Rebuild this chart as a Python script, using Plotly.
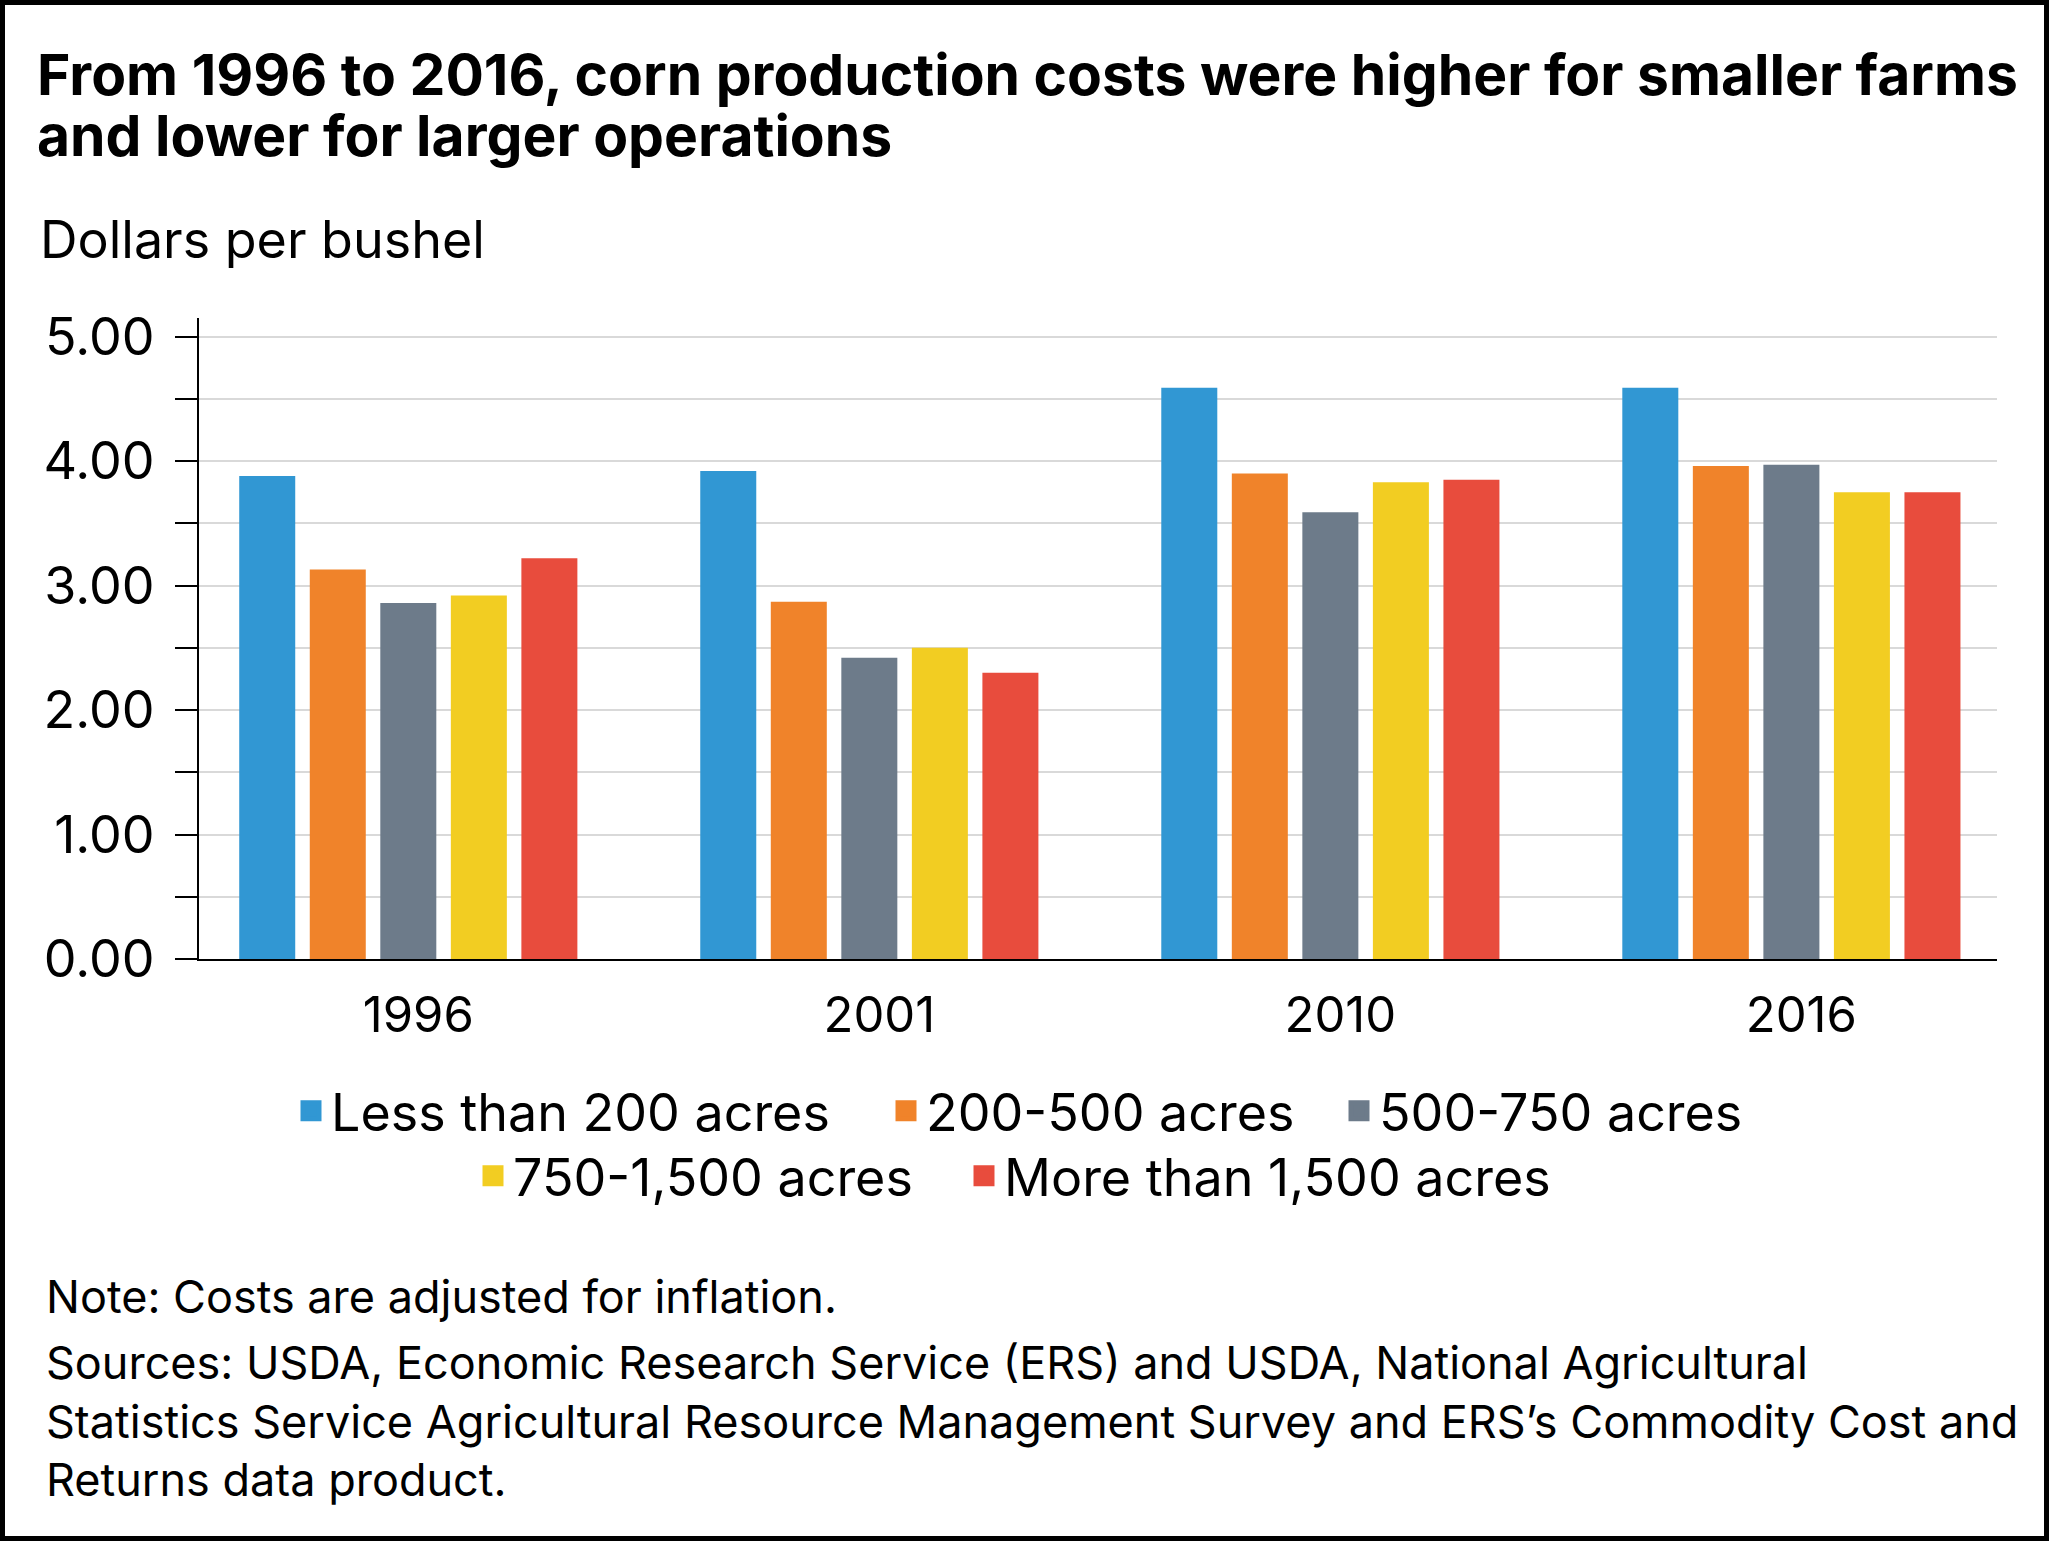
import plotly.graph_objects as go

years = ["1996", "2001", "2010", "2016"]
farm_sizes = [
    "Less than 200 acres",
    "200-500 acres",
    "500-750 acres",
    "750-1,500 acres",
    "More than 1,500 acres",
]
under_200 = [3.88, 3.92, 4.59, 4.59]
acres_200_500 = [3.13, 2.87, 3.90, 3.96]
acres_500_750 = [2.86, 2.42, 3.59, 3.97]
acres_750_1500 = [2.92, 2.50, 3.83, 3.75]
over_1500 = [3.22, 2.30, 3.85, 3.75]
series = [under_200, acres_200_500, acres_500_750, acres_750_1500, over_1500]
colors = ["#3197d3", "#f0832a", "#6d7b8a", "#f2cd22", "#e84c3d"]

y_ticks = [0, 0.5, 1, 1.5, 2, 2.5, 3, 3.5, 4, 4.5, 5]
y_tick_text = [f"{v:.2f}" if v == int(v) else "" for v in y_ticks]

title_lines = [
    "From 1996 to 2016, corn production costs were higher for smaller farms",
    "and lower for larger operations",
]
note = "Note: Costs are adjusted for inflation."
sources = (
    "Sources: USDA, Economic Research Service (ERS) and USDA, National Agricultural<br>"
    "Statistics Service Agricultural Resource Management Survey and ERS\u2019s Commodity Cost and<br>"
    "Returns data product."
)

W, H = 2049, 1541
ML, MR, MT, MB = 199, 52, 318, 582
FONT = "Inter"


def px_x(px):
    return (px - ML) / (W - ML - MR)


def px_y(py):
    return (H - MB - py) / (H - MT - MB)


fig = go.Figure()
# legend slots: (legend id, left pixel of the swatch, row centre pixel)
legend_slots = [
    ("legend", 301, 1111),
    ("legend2", 896, 1111),
    ("legend3", 1349, 1111),
    ("legend4", 483, 1176),
    ("legend5", 974, 1176),
]
for name, values, color, slot in zip(farm_sizes, series, colors, legend_slots):
    fig.add_trace(go.Bar(
        x=years, y=values, name=name, marker_color=color,
        marker_line_width=0, showlegend=False,
    ))
    # square swatch for the legend, bigger than the default bar icon
    fig.add_trace(go.Scatter(
        x=[None], y=[None], mode="markers", name=name, legend=slot[0],
        marker=dict(symbol="square", size=16, color=color, line=dict(color=color, width=5)),
    ))

legends = {}
for legend_id, left, centre in legend_slots:
    legends[legend_id] = dict(
        x=px_x(left - 10), y=px_y(centre), xanchor="left", yanchor="middle",
        orientation="h", bgcolor="rgba(0,0,0,0)", borderwidth=0,
        font=dict(family=FONT, size=52, color="black"),
        itemsizing="trace",
    )

annotations = [
    dict(text=f"<b>{title_lines[0]}</b>", x=px_x(35), y=px_y(97), yanchor="bottom"),
    dict(text=f"<b>{title_lines[1]}</b>", x=px_x(35), y=px_y(158), yanchor="bottom"),
    dict(text="Dollars per bushel", x=px_x(38), y=px_y(239), yanchor="middle",
         font=dict(family=FONT, size=52, color="black")),
    dict(text=note, x=px_x(44), y=px_y(1296), yanchor="middle",
         font=dict(family=FONT, size=45, color="black")),
    dict(text=sources, x=px_x(44), y=px_y(1333), yanchor="top", align="left",
         font=dict(family=FONT, size=45, color="black")),
]
for a in annotations:
    a.setdefault("font", dict(family=FONT, size=57, color="black"))
    a.update(xref="paper", yref="paper", xanchor="left", showarrow=False, yshift=0)
    if a["yanchor"] == "bottom":
        a["yshift"] = -14  # descender space below baseline

fig.update_layout(
    width=W, height=H,
    margin=dict(l=ML, r=MR, t=MT, b=MB),
    paper_bgcolor="white", plot_bgcolor="white",
    barmode="group", bargap=0.235, bargroupgap=0.206,
    font=dict(family=FONT, color="black"),
    annotations=annotations,
    shapes=[dict(
        type="rect", xref="paper", yref="paper",
        x0=px_x(2.5), x1=px_x(W - 2.5), y0=px_y(H - 2.5), y1=px_y(2.5),
        line=dict(color="black", width=5), fillcolor="rgba(0,0,0,0)", layer="above",
    )],
    **legends,
)
fig.update_xaxes(
    type="category", range=[-0.454, 3.446],
    showline=True, linecolor="black", linewidth=2,
    ticks="", tickfont=dict(family=FONT, size=49, color="black"),
    ticklabelstandoff=12, ticklabelshift=10, showgrid=False, fixedrange=True,
)
fig.update_yaxes(
    range=[0, 5.15], tickvals=y_ticks, ticktext=y_tick_text,
    showline=True, linecolor="black", linewidth=2,
    ticks="outside", ticklen=22, tickwidth=2, tickcolor="black",
    ticklabelstandoff=10,
    tickfont=dict(family=FONT, size=52, color="black"),
    showgrid=True, gridcolor="#d9d9d9", gridwidth=2, zeroline=False,
    fixedrange=True,
)

# the page's default body margin would push the figure off the window edge
fig.write_html(
    "out.html",
    config={"displayModeBar": False},
    post_script="document.body.style.margin = '0';",
)
